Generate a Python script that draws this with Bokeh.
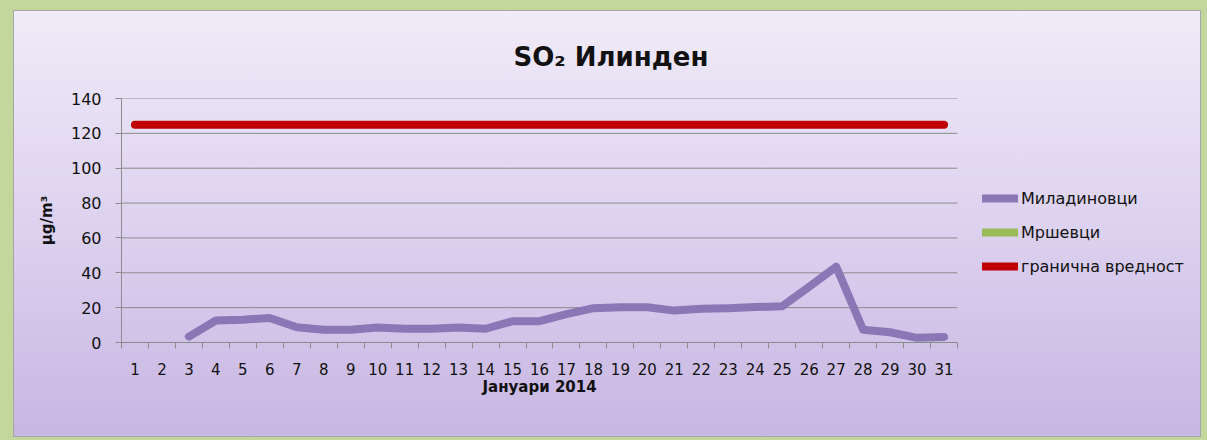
from bokeh.plotting import figure
from bokeh.models import FixedTicker, Legend, LegendItem, ColumnDataSource, Range1d, Title
from bokeh.embed import file_html
from bokeh.resources import INLINE

days = list(range(1, 32))
day_labels = [str(d) for d in days]
miladinovci = [None, None, 3.4, 12.6, 13.1, 14.1, 8.8, 7.3, 7.3, 8.6, 7.9, 7.9, 8.6, 7.9,
               12.2, 12.2, 16.3, 19.7, 20.2, 20.2, 18.3, 19.4, 19.7, 20.3, 20.8, 32.0,
               43.5, 7.3, 5.9, 2.7, 3.2]
mrshevci = [None] * 31
limit_value = [125] * 31
y_ticks = [0, 20, 40, 60, 80, 100, 120, 140]

series_names = ["Миладиновци", "Мршевци", "гранична вредност"]
title_text = "SO₂ Илинден"
x_title = "Јануари 2014"
y_title = "µg/m³"

FONT = "DejaVu Sans"

# layout (pixels)
W, H = 1186, 425
B_LEFT, B_TOP, B_BOTTOM, B_RIGHT = 107, 87, 94, 2
AXIS_W = 836  # width of the days axis
frame_w = W - B_LEFT - B_RIGHT
x_start = 0.5
x_axis_end = 31.5
x_end = x_start + frame_w * (x_axis_end - x_start) / AXIS_W

def nan(v):
    return [float("nan") if x is None else x for x in v]

src = ColumnDataSource(dict(day=days, mil=nan(miladinovci), mrs=nan(mrshevci), lim=limit_value))
grid_src = ColumnDataSource(dict(y=y_ticks, x0=[x_start] * len(y_ticks), x1=[x_axis_end] * len(y_ticks)))

p = figure(width=W, height=H, output_backend="svg", toolbar_location=None,
           x_range=Range1d(x_start, x_end), y_range=Range1d(0, 140),
           min_border_left=B_LEFT, min_border_top=B_TOP, min_border_bottom=B_BOTTOM,
           min_border_right=B_RIGHT)

p.styles = {"background": "linear-gradient(to bottom, #f0ebf8 0%, #ddd2ef 50%, #c8b6e3 100%)",
            "outline": "1px solid #a6a6a6", "margin-left": "14px", "margin-top": "11px"}
p.border_fill_alpha = 0
p.background_fill_alpha = 0
p.outline_line_color = None

# title
p.title.text = title_text
p.title.align = "left"
p.title.offset = 392
p.title.vertical_align = "top"
p.title.text_font = FONT
p.title.text_font_size = "26px"
p.title.text_font_style = "bold"
p.title.text_color = "#111111"
p.title.standoff = 50

# grid lines limited to the axis extent
p.segment(x0="x0", x1="x1", y0="y", y1="y", source=grid_src, line_color="#8c8c8c", line_width=1)

r_mil = p.line("day", "mil", source=src, line_color="#8b77b5", line_width=8,
               line_join="round", line_cap="round")
r_mrs = p.line("day", "mrs", source=src, line_color="#9bbb59", line_width=8,
               line_join="round", line_cap="round")
r_lim = p.line("day", "lim", source=src, line_color="#c00000", line_width=8,
               line_join="round", line_cap="round")

# x axis
xt = FixedTicker(ticks=days, minor_ticks=[d - 0.5 for d in days] + [x_axis_end])
p.xaxis.ticker = xt
p.xaxis.bounds = (x_start, x_axis_end)
p.xaxis.major_label_overrides = {d: s for d, s in zip(days, day_labels)}
p.xaxis.major_tick_line_color = None
p.xaxis.major_tick_out = 0
p.xaxis.major_tick_in = 0
p.xaxis.minor_tick_out = 6
p.xaxis.minor_tick_in = 0
p.xaxis.minor_tick_line_color = "#8c8c8c"
p.xaxis.axis_line_color = "#8c8c8c"
p.xaxis.major_label_text_font = FONT
p.xaxis.major_label_text_font_size = "15px"
p.xaxis.major_label_text_color = "#111111"
p.xaxis.major_label_standoff = 14

# x axis title, centred under the days axis (not under the whole frame)
x_label = Title(text=x_title, align="left", offset=361, vertical_align="top", standoff=0,
                text_font=FONT, text_font_size="15px", text_font_style="bold",
                text_color="#111111")
p.add_layout(x_label, "below")

# y axis
p.yaxis.ticker = FixedTicker(ticks=y_ticks)
p.yaxis.minor_tick_line_color = None
p.yaxis.major_tick_out = 6
p.yaxis.major_tick_in = 0
p.yaxis.major_tick_line_color = "#8c8c8c"
p.yaxis.axis_line_color = "#8c8c8c"
p.yaxis.major_label_text_font = FONT
p.yaxis.major_label_text_font_size = "16px"
p.yaxis.major_label_text_color = "#111111"
p.yaxis.major_label_standoff = 14
p.yaxis.axis_label = y_title
p.yaxis.axis_label_text_font = FONT
p.yaxis.axis_label_text_font_size = "15px"
p.yaxis.axis_label_text_font_style = "bold"
p.yaxis.axis_label_text_color = "#111111"
p.yaxis.axis_label_standoff = 12

p.xgrid.grid_line_color = None
p.ygrid.grid_line_color = None

legend = Legend(items=[LegendItem(label=series_names[0], renderers=[r_mil]),
                       LegendItem(label=series_names[1], renderers=[r_mrs]),
                       LegendItem(label=series_names[2], renderers=[r_lim])],
                location=(861, 66), padding=0, margin=0, spacing=14,
                glyph_width=36, glyph_height=20, label_height=20, label_standoff=3,
                border_line_color=None, background_fill_alpha=0,
                label_text_font=FONT, label_text_font_size="16px", label_text_color="#111111")
p.add_layout(legend, "center")

html = file_html(p, INLINE)
html = html.replace("</head>",
                    "<style>html, body { background-color: #c3d69b !important; }</style></head>", 1)
open("out.html", "w").write(html)
